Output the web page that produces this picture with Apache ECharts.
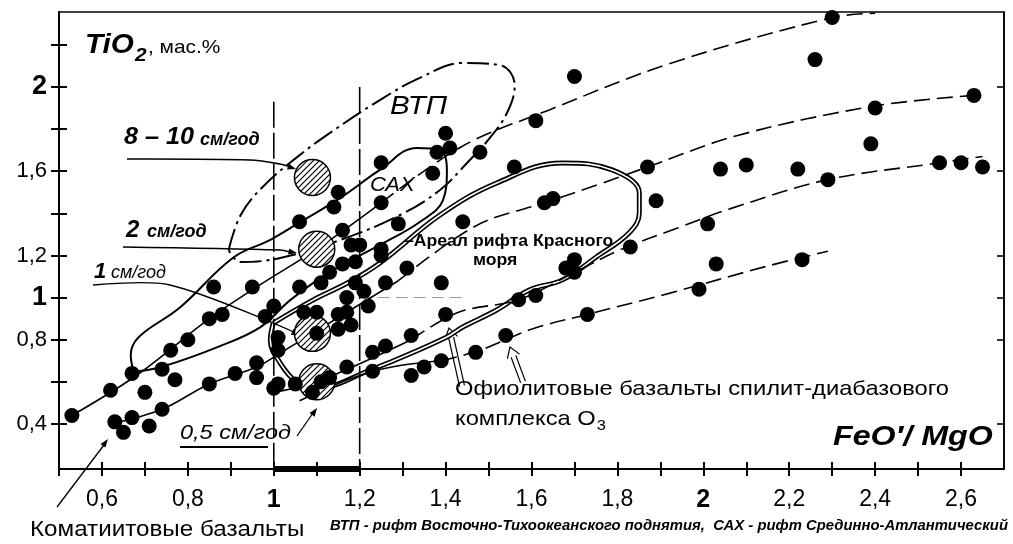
<!DOCTYPE html>
<html>
<head>
<meta charset="utf-8">
<script src="https://cdn.jsdelivr.net/npm/echarts@6/dist/echarts.min.js"></script>
<style>
  html, body { margin: 0; padding: 0; background: #fff; }
  #chart { width: 1013px; height: 544px; }
</style>
</head>
<body>
<div id="chart"></div>
<script>
// axes
var xTicks = [0.5, 0.6, 0.7, 0.8, 0.9, 1.0, 1.1, 1.2, 1.3, 1.4, 1.5, 1.6, 1.7, 1.8, 1.9, 2.0, 2.1, 2.2, 2.3, 2.4, 2.5, 2.6];
var xLabels = [0.6, 0.8, 1, 1.2, 1.4, 1.6, 1.8, 2, 2.2, 2.4, 2.6];
var yTicks = [0.4, 0.6, 0.8, 1.0, 1.2, 1.4, 1.6, 1.8, 2.0, 2.2];
var yLabels = [0.4, 0.8, 1, 1.2, 1.6, 2];

// точки анализов (FeO'/MgO, TiO2)
var points = [
  [0.53,0.44],[0.62,0.56],[0.63,0.41],[0.65,0.36],[0.67,0.43],[0.67,0.64],[0.70,0.55],[0.71,0.39],
  [0.74,0.47],[0.74,0.66],[0.77,0.61],[0.76,0.75],[0.80,0.80],[0.85,0.59],[0.85,0.90],[0.88,0.92],
  [0.86,1.05],[0.91,0.64],[0.96,0.62],[0.96,0.69],[0.95,1.05],[1.01,0.59],[1.05,0.59],[0.98,0.91],
  [1.00,0.96],[1.01,0.81],[1.01,0.75],[1.00,0.57],[1.06,1.05],[1.06,1.36],[1.14,1.43],[1.15,1.50],
  [1.11,1.07],[1.13,1.12],[1.16,1.16],[1.19,1.17],[1.25,1.20],[1.16,1.32],[1.18,1.25],[1.20,1.25],
  [1.25,1.23],[1.25,1.45],[1.29,1.35],[1.25,1.64],[1.31,1.14],[1.26,1.07],[1.39,1.07],[1.19,1.07],
  [1.21,1.03],[1.17,1.00],[1.22,0.96],[1.07,0.93],[1.10,0.93],[1.15,0.92],[1.17,0.93],[1.18,0.87],
  [1.15,0.85],[1.10,0.83],[1.23,0.74],[1.26,0.77],[1.32,0.82],[1.39,0.70],[1.35,0.67],[1.32,0.63],
  [1.23,0.65],[1.17,0.67],[1.13,0.62],[1.11,0.60],[1.09,0.55],[1.47,0.74],[1.40,0.92],[1.44,1.36],
  [1.40,1.78],[1.38,1.69],[1.41,1.71],[1.37,1.59],[1.48,1.69],[1.56,1.62],[1.61,1.84],[1.70,2.05],
  [1.63,1.45],[1.65,1.47],[1.89,1.46],[1.87,1.62],[1.83,1.24],[1.70,1.18],[1.68,1.14],[1.70,1.12],
  [1.57,0.99],[1.61,1.01],[1.73,0.92],[1.54,0.82],
  [2.30,2.33],[2.26,2.13],[2.63,1.96],[2.40,1.90],[2.39,1.73],[2.04,1.61],[2.10,1.63],[2.22,1.61],
  [2.29,1.56],[2.55,1.64],[2.60,1.64],[2.65,1.62],[2.01,1.35],[2.03,1.16],[1.99,1.04],[2.23,1.18]
];

// заштрихованные кружки: 8-10, 2, 1, 0.5 см/год
var rateCircles = [[1.09,1.57],[1.10,1.23],[1.09,0.83],[1.10,0.60]];

// линии трендов (сплошная часть и пунктирное продолжение)
var line2Solid  = [[0.53,0.44],[0.68,0.63],[0.85,0.90],[0.96,1.05],[1.10,1.23],[1.25,1.45]];
var line2Dash   = [[1.25,1.45],[1.44,1.72],[1.64,1.89],[1.92,2.11],[2.30,2.33],[2.40,2.35]];
var line1Solid  = [[0.62,0.40],[0.74,0.47],[0.85,0.59],[0.96,0.67],[1.01,0.73],[1.09,0.83],[1.29,1.08]];
var line1Dash   = [[1.29,1.08],[1.47,1.34],[1.63,1.45],[1.76,1.54],[1.87,1.62],[2.08,1.77],[2.40,1.91],[2.63,1.96]];
var line05Solid = [[1.00,0.55],[1.10,0.60],[1.32,0.80]];
var line05Dash  = [[1.32,0.80],[1.43,0.93],[1.57,0.99],[1.71,1.13],[1.81,1.23],[1.94,1.33],[2.06,1.42],[2.29,1.56],[2.55,1.64],[2.65,1.67]];
var lineO3Solid = [[1.06,0.51],[1.23,0.65],[1.39,0.70]];
var lineO3Dash  = [[1.39,0.70],[1.48,0.75],[1.60,0.85],[1.73,0.92],[1.92,1.02],[2.15,1.15],[2.29,1.22]];
var level1Line  = [[1.20,1.0],[1.45,1.0]];

// контуры полей
var sahOutline = [[0.674,0.647],[0.667,0.727],[0.686,0.813],[0.780,0.950],[0.906,1.190],[0.992,1.274],
  [1.062,1.359],[1.155,1.473],[1.247,1.606],[1.333,1.710],[1.387,1.701],[1.403,1.606],[1.394,1.463],
  [1.340,1.359],[1.247,1.250],[1.131,1.122],[1.039,0.989],[0.969,0.860],[0.869,0.765],[0.737,0.670],[0.674,0.647]];
var vtpOutline = [[0.895,1.226],[0.923,1.392],[0.974,1.525],[1.055,1.668],[1.131,1.782],[1.247,1.938],
  [1.340,2.043],[1.440,2.114],[1.526,2.104],[1.561,2.009],[1.544,1.881],[1.503,1.758],[1.452,1.644],
  [1.387,1.511],[1.294,1.392],[1.155,1.274],[1.015,1.188],[0.923,1.169],[0.895,1.226]];
var redSeaOutline = [[0.999,0.879],[1.092,0.989],[1.171,1.069],[1.247,1.164],[1.387,1.392],[1.519,1.544],
  [1.672,1.639],[1.788,1.606],[1.851,1.497],[1.851,1.402],[1.827,1.307],[1.751,1.193],[1.672,1.084],
  [1.595,1.036],[1.519,0.941],[1.440,0.860],[1.403,0.813],[1.294,0.713],[1.208,0.642],[1.155,0.594],
  [1.092,0.561],[1.055,0.594],[1.015,0.689],[0.992,0.799],[0.999,0.879]];

var vLine1  = [[1.0,1.93],[1.0,0.186]];
var vLine12 = [[1.2,2.0],[1.2,0.186]];
var thickSeg = [[1.0,0.186],[1.2,0.186]];

var hatch = document.createElement('canvas');
hatch.width = 6; hatch.height = 6;
var hc = hatch.getContext('2d');
hc.fillStyle = '#fff'; hc.fillRect(0, 0, 6, 6);
hc.strokeStyle = '#000'; hc.lineWidth = 1.2;
hc.beginPath();
hc.moveTo(0, 6); hc.lineTo(6, 0);
hc.moveTo(-3, 3); hc.lineTo(3, -3);
hc.moveTo(3, 9); hc.lineTo(9, 3);
hc.stroke();

var FONT = '"Liberation Sans", Arial, sans-serif';
var measure = document.createElement('canvas').getContext('2d');
function textW(text, font) { measure.font = font; return measure.measureText(text).width; }

function fmt(v) {
  var r = Math.round(v * 10) / 10;
  if (r === 1 || r === 2) return '{b|' + r + '}';
  return String(r.toFixed(1)).replace('.', ',');
}

function lineSeries(data, dashed, width) {
  return {
    type: 'line', data: data, smooth: 0.35, symbol: 'none', silent: true, z: 2,
    lineStyle: { color: '#000', width: width || 1.6, type: dashed ? [16, 7] : 'solid' }
  };
}

function arrowHead(x1, y1, x2, y2, size) {
  var a = Math.atan2(y2 - y1, x2 - x1);
  var s = size || 9;
  return {
    type: 'polygon', silent: true,
    shape: { points: [[x2, y2],
      [x2 - s * Math.cos(a - 0.35), y2 - s * Math.sin(a - 0.35)],
      [x2 - s * Math.cos(a + 0.35), y2 - s * Math.sin(a + 0.35)]] },
    style: { fill: '#000' }
  };
}
function poly(pts, w) {
  return { type: 'polyline', silent: true, shape: { points: pts, smooth: 0.3 }, style: { stroke: '#000', lineWidth: w || 1.6, fill: null } };
}
function txt(x, y, text, font, sx) {
  return { type: 'text', silent: true, x: x, y: y, scaleX: sx || 1, z: 10,
    style: { text: text, x: 0, y: 0, font: font, fill: '#000', textVerticalAlign: 'middle' } };
}
function hollowArrow(x1, y1, x2, y2) {
  var a = Math.atan2(y2 - y1, x2 - x1);
  var nx = -Math.sin(a) * 2.5, ny = Math.cos(a) * 2.5;
  var bx = x2 - 10 * Math.cos(a), by = y2 - 10 * Math.sin(a);
  return [
    poly([[x1 + nx, y1 + ny], [bx + nx, by + ny]], 1.2),
    poly([[x1 - nx, y1 - ny], [bx - nx, by - ny]], 1.2),
    { type: 'polyline', silent: true,
      shape: { points: [[bx + nx * 2.6, by + ny * 2.6], [x2, y2], [bx - nx * 2.6, by - ny * 2.6]] },
      style: { stroke: '#000', lineWidth: 1.2, fill: null } }
  ];
}

var fTi = 'italic bold 27px ' + FONT;
var tiEnd = 85 + textW('TiO', fTi) * 1.1;
var fKom = '21px ' + FONT;
var komEnd = 455 + textW('комплекса O', fKom) * 1.13;

var graphics = [
  txt(85, 46, 'TiO', fTi, 1.1),
  txt(tiEnd + 1, 56, '2', 'italic bold 19px ' + FONT, 1.1),
  txt(tiEnd + 14, 48, ', мас.%', '19px ' + FONT, 1.1),
  txt(124, 137, '8 – 10', 'italic bold 24px ' + FONT, 1.05),
  txt(200, 140, 'см/год', 'italic bold 18px ' + FONT),
  txt(126, 230, '2', 'italic bold 24px ' + FONT),
  txt(147, 232, 'см/год', 'italic bold 18px ' + FONT),
  txt(94, 272, '1', 'italic bold 22px ' + FONT),
  txt(111, 273, 'см/год', 'italic 18px ' + FONT),
  txt(180, 433, '0,5 см/год', 'italic 21px ' + FONT, 1.12),
  txt(390, 107, 'ВТП', 'italic 25px ' + FONT, 1.18),
  txt(370, 185, 'САХ', 'italic 21px ' + FONT, 1.05),
  txt(404, 242, '–Ареал рифта Красного', 'bold 16px ' + FONT, 1.1),
  txt(473, 261, 'моря', 'bold 16px ' + FONT, 1.1),
  txt(455, 389, 'Офиолитовые базальты спилит-диабазового', fKom, 1.13),
  txt(455, 419, 'комплекса O', fKom, 1.13),
  txt(komEnd + 1, 426, '3', '15px ' + FONT, 1.1),
  txt(833, 437, 'FeO′/ MgO', 'italic bold 28px ' + FONT, 1.15),
  txt(30, 530, 'Коматиитовые базальты', '22px ' + FONT, 1.1),
  txt(330, 526, 'ВТП - рифт Восточно-Тихоокеанского поднятия,  САХ - рифт Срединно-Атлантический',
      'italic bold 15px "Liberation Sans Narrow", ' + FONT, 0.99),
  poly([[127, 159], [250, 160], [280, 164], [290, 167]]),
  arrowHead(280, 164, 296, 169),
  poly([[123, 247], [280, 250], [290, 252]]),
  arrowHead(280, 250, 297, 253),
  poly([[93, 285], [170, 285], [296, 333]], 1.3),
  arrowHead(250, 316, 300, 335),
  poly([[180, 447], [268, 447]], 2),
  poly([[297, 436], [313, 413]], 1.3),
  arrowHead(297, 436, 317, 408),
  poly([[57, 507], [104, 445]], 1.3),
  arrowHead(57, 507, 108, 439)
].concat(hollowArrow(462, 386, 449, 328)).concat(hollowArrow(523, 382, 510, 347));

var chart = echarts.init(document.getElementById('chart'));
chart.setOption({
  backgroundColor: '#fff',
  animation: false,
  grid: { left: 59, right: 9, top: 12, bottom: 75, show: true, borderColor: '#000', borderWidth: 1.6 },
  xAxis: [{
    type: 'value', min: 0.5, max: 2.7, position: 'bottom',
    axisLine: { lineStyle: { color: '#000', width: 2 } },
    axisTick: { customValues: xTicks, length: 7, lineStyle: { color: '#000', width: 2 } },
    axisLabel: { customValues: xLabels, formatter: fmt, color: '#000', fontSize: 23, fontFamily: FONT, margin: 19,
      rich: { b: { fontSize: 25, fontWeight: 'bold', fontFamily: FONT, color: '#000' } } },
    splitLine: { show: false }
  }, {
    type: 'value', min: 0.5, max: 2.7, position: 'bottom',
    axisLine: { show: false },
    axisTick: { customValues: xTicks, inside: true, length: 7, lineStyle: { color: '#000', width: 2 } },
    axisLabel: { show: false }, splitLine: { show: false }
  }],
  yAxis: [{
    type: 'value', min: 0.186, max: 2.356, position: 'left',
    axisLine: { lineStyle: { color: '#000', width: 2 } },
    axisTick: { customValues: yTicks, length: 8, lineStyle: { color: '#000', width: 2 } },
    axisLabel: { customValues: yLabels, formatter: fmt, color: '#000', fontSize: 22, fontFamily: FONT, margin: 12,
      rich: { b: { fontSize: 27, fontWeight: 'bold', fontFamily: FONT, color: '#000' } } },
    splitLine: { show: false }
  }, {
    type: 'value', min: 0.186, max: 2.356, position: 'left',
    axisLine: { show: false },
    axisTick: { customValues: yTicks, inside: true, length: 8, lineStyle: { color: '#000', width: 2 } },
    axisLabel: { show: false }, splitLine: { show: false }
  }, {
    type: 'value', min: 0.186, max: 2.356, position: 'right',
    axisLine: { show: true, lineStyle: { color: '#000', width: 1.6 } },
    axisTick: { customValues: yLabels, inside: true, length: 7, lineStyle: { color: '#000', width: 1.6 } },
    axisLabel: { show: false }, splitLine: { show: false }
  }],
  graphic: graphics,
  series: [
    { type: 'line', data: sahOutline, smooth: 0.4, symbol: 'none', silent: true, z: 1,
      lineStyle: { color: '#000', width: 2 } },
    { type: 'line', data: vtpOutline, smooth: 0.4, symbol: 'none', silent: true, z: 1,
      lineStyle: { color: '#000', width: 2, type: [22, 5, 3, 5] } },
    { type: 'line', data: redSeaOutline, smooth: 0.4, symbol: 'none', silent: true, z: 1,
      lineStyle: { color: '#000', width: 5 } },
    { type: 'line', data: redSeaOutline, smooth: 0.4, symbol: 'none', silent: true, z: 1,
      lineStyle: { color: '#fff', width: 1.6 } },
    lineSeries(line2Solid, false), lineSeries(line2Dash, true),
    lineSeries(line1Solid, false), lineSeries(line1Dash, true),
    lineSeries(line05Solid, false), lineSeries(line05Dash, true),
    lineSeries(lineO3Solid, false), lineSeries(lineO3Dash, true),
    { type: 'line', data: level1Line, symbol: 'none', silent: true, z: 1,
      lineStyle: { color: '#999', width: 1, type: [12, 6] } },
    { type: 'line', data: vLine1, symbol: 'none', silent: true, z: 2,
      lineStyle: { color: '#000', width: 1.6, type: [26, 5] } },
    { type: 'line', data: vLine12, symbol: 'none', silent: true, z: 2,
      lineStyle: { color: '#000', width: 1.6, type: [26, 5] } },
    { type: 'line', data: thickSeg, symbol: 'none', silent: true, z: 6, clip: false,
      lineStyle: { color: '#000', width: 6 } },
    { type: 'scatter', data: points, symbol: 'circle', symbolSize: 15, silent: true, z: 5,
      itemStyle: { color: '#000', opacity: 1 } },
    { type: 'custom', data: rateCircles, silent: true, z: 4,
      renderItem: function (params, api) {
        var p = api.coord([api.value(0), api.value(1)]);
        return { type: 'circle', shape: { cx: p[0], cy: p[1], r: 18 },
          style: { fill: { image: hatch, repeat: 'repeat' }, stroke: '#000', lineWidth: 1.5 } };
      } }
  ]
});
</script>
</body>
</html>
